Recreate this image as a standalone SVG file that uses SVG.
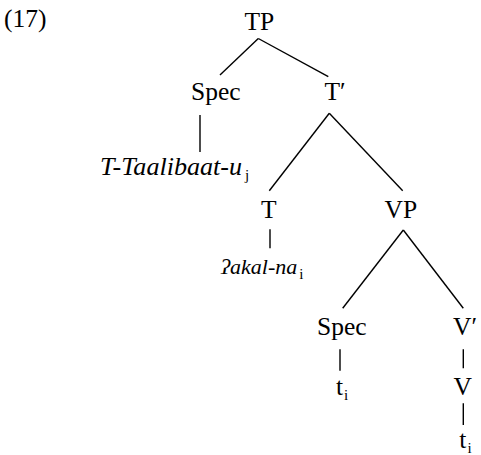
<svg xmlns="http://www.w3.org/2000/svg" width="481" height="455" viewBox="0 0 481 455">
<style>
text{font-family:"Liberation Serif","Times New Roman",serif;font-size:25.5px;fill:#000}
.it{font-style:italic;font-size:25px}
.it2{font-style:italic;font-size:22px}
.sub{font-size:15px;font-style:normal}
#edges line{stroke:#000;stroke-width:1.4;stroke-linecap:butt}
</style>
<rect width="481" height="455" fill="#fff"/>
<text x="4" y="27">(17)</text>
<g id="edges">
<line x1="258.3" y1="38.5" x2="220" y2="75"/>
<line x1="258.3" y1="38.5" x2="328.3" y2="76.7"/>
<line x1="200" y1="115" x2="200" y2="152"/>
<line x1="329.3" y1="113.3" x2="269.3" y2="190.7"/>
<line x1="329.3" y1="113.3" x2="402.7" y2="190.7"/>
<line x1="270" y1="229.3" x2="270" y2="248.3"/>
<line x1="403.3" y1="230" x2="342.7" y2="308.3"/>
<line x1="403.3" y1="230" x2="463.3" y2="308.3"/>
<line x1="340" y1="349.3" x2="340" y2="370.7"/>
<line x1="463.3" y1="349.3" x2="463.3" y2="368.3"/>
<line x1="463.3" y1="403.3" x2="463.3" y2="425"/>
</g>
<g id="n-TP"><text x="244.5" y="30">TP</text></g>
<g id="n-Spec1"><text x="191" y="100">Spec</text></g>
<g id="n-Tbar"><text x="324.5" y="100">T′</text></g>
<g id="n-Taalibaat"><text x="100" y="175" class="it"><tspan textLength="142" lengthAdjust="spacingAndGlyphs">T-Taalibaat-u</tspan><tspan class="sub" x="245" dy="5">j</tspan></text></g>
<g id="n-T"><text x="261" y="218">T</text></g>
<g id="n-VP"><text x="384.5" y="218">VP</text></g>
<g id="n-akal"><text x="221" y="274" class="it2">ʔakal-na<tspan class="sub" dx="2" dy="5">i</tspan></text></g>
<g id="n-Spec2"><text x="317" y="335">Spec</text></g>
<g id="n-Vbar"><text x="453" y="335">V′</text></g>
<g id="n-t1"><text x="336" y="395">t<tspan class="sub" dx="1" dy="5">i</tspan></text></g>
<g id="n-V"><text x="453.5" y="395">V</text></g>
<g id="n-t2"><text x="459.3" y="448">t<tspan class="sub" dx="1" dy="5">i</tspan></text></g>
</svg>
